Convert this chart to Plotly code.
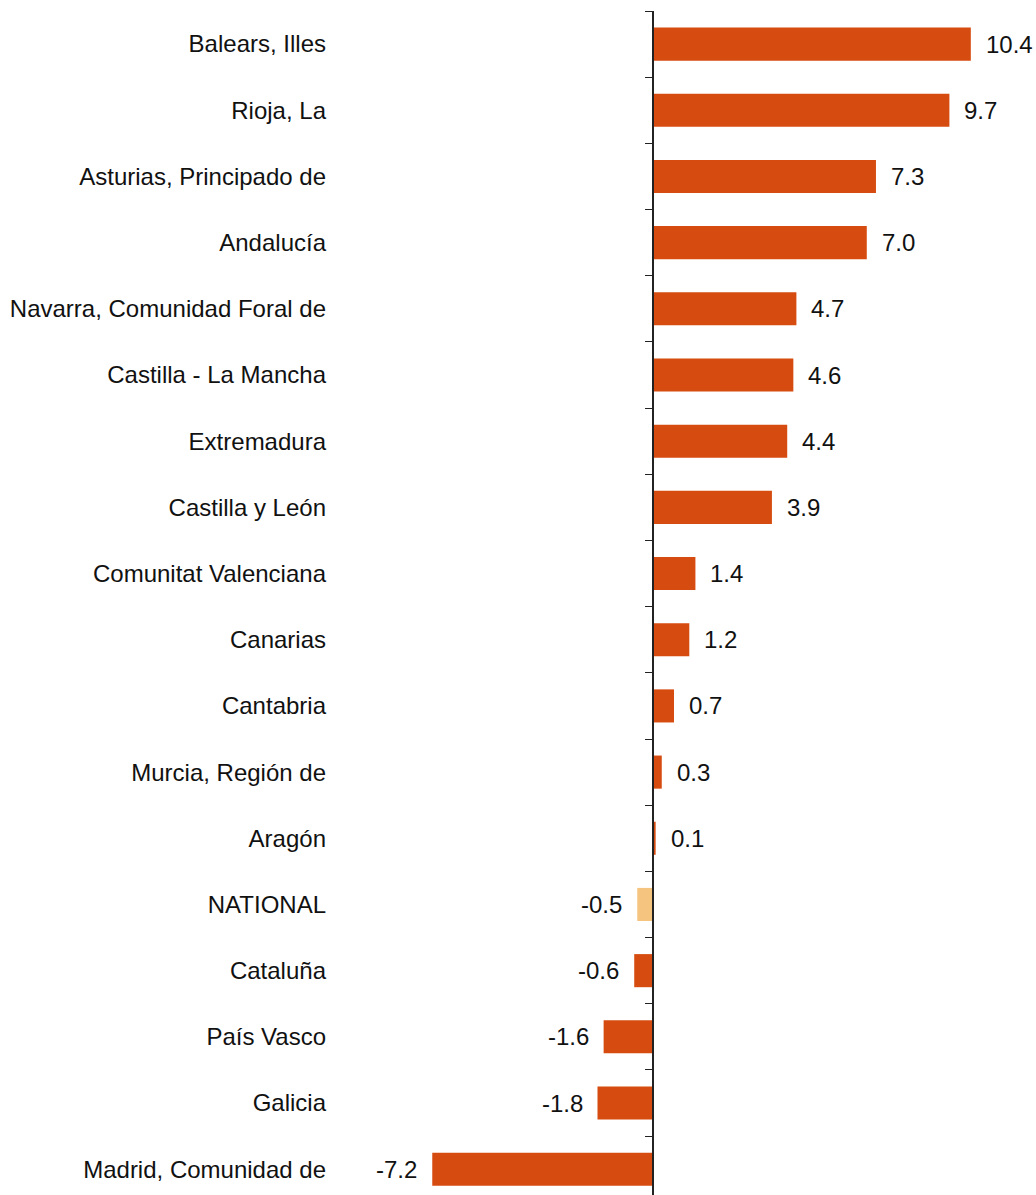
import plotly.graph_objects as go

categories = ["Balears, Illes", "Rioja, La", "Asturias, Principado de", "Andalucía",
              "Navarra, Comunidad Foral de", "Castilla - La Mancha", "Extremadura",
              "Castilla y León", "Comunitat Valenciana", "Canarias", "Cantabria",
              "Murcia, Región de", "Aragón", "NATIONAL", "Cataluña", "País Vasco",
              "Galicia", "Madrid, Comunidad de"]
values = [10.4, 9.7, 7.3, 7.0, 4.7, 4.6, 4.4, 3.9, 1.4, 1.2, 0.7, 0.3, 0.1,
          -0.5, -0.6, -1.6, -1.8, -7.2]
highlight = "NATIONAL"

BAR = "#D64B0F"
HL = "#F5C47F"
TXT = "#111111"
FONT = "Liberation Sans, Arial, sans-serif"

colors = [HL if c == highlight else BAR for c in categories]
xmin, xmax = -10.64, 12.53
yrange = [17.39, -0.5]

fig = go.Figure()
fig.add_trace(go.Bar(y=categories, x=values, orientation="h",
                     marker=dict(color=colors, line=dict(width=0)),
                     hoverinfo="skip", showlegend=False))
fig.add_trace(go.Scatter(y=categories, x=values, yaxis="y2", mode="markers",
                         marker=dict(opacity=0), hoverinfo="skip", showlegend=False))

for c, v in zip(categories, values):
    fig.add_annotation(x=v, y=c, xref="x", yref="y", text=f"{v:.1f}",
                       showarrow=False, xanchor="left" if v >= 0 else "right",
                       xshift=13 if v >= 0 else -13, yanchor="middle",
                       font=dict(size=24, color=TXT, family=FONT))

pos = (0 - xmin) / (xmax - xmin)
fig.update_layout(
    width=1036, height=1195,
    margin=dict(l=327, r=0, t=11, b=0),
    paper_bgcolor="white", plot_bgcolor="white",
    bargap=0.5,
    font=dict(family=FONT, size=24, color=TXT),
    xaxis=dict(range=[xmin, xmax], showgrid=False, zeroline=False,
               showticklabels=False, showline=False, ticks=""),
    yaxis=dict(type="category", categoryorder="array", categoryarray=categories,
               range=yrange, showgrid=False, showline=False, ticks="",
               tickfont=dict(size=24, color=TXT, family=FONT)),
    yaxis2=dict(type="category", categoryorder="array", categoryarray=categories,
                range=yrange, overlaying="y", anchor="free", position=pos,
                side="left", showline=True, linecolor="#222222", linewidth=1.5,
                ticks="outside", tickson="boundaries", ticklen=7, tickwidth=1.2,
                tickcolor="#222222", showticklabels=False, showgrid=False),
)

fig.write_html(
    "out.html",
    config={"displayModeBar": False},
    post_script="document.body.style.margin='0';document.body.style.overflow='hidden';"
                "document.documentElement.style.overflow='hidden';",
)
